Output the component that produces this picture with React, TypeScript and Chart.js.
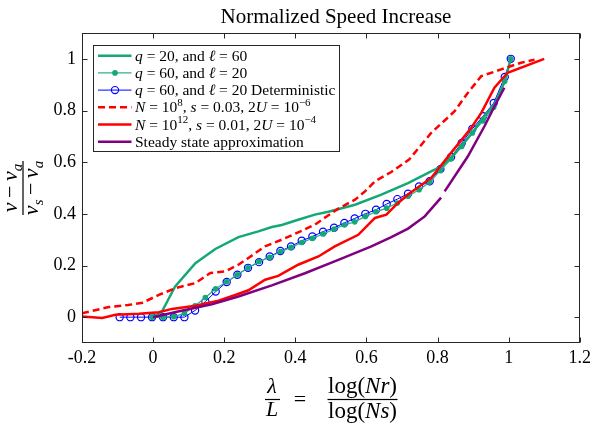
import React, { useEffect, useRef } from 'react';
import { Chart, registerables } from 'chart.js';

Chart.register(...registerables);

const FONT = '"Liberation Serif", "Times New Roman", Times, serif';

// ---- data ----
const detX = [-0.094, -0.064, -0.034, -0.003, 0.028, 0.058, 0.088, 0.118, 0.147, 0.176, 0.207, 0.237, 0.267, 0.298, 0.328, 0.358, 0.388, 0.418, 0.448, 0.478, 0.509, 0.538, 0.567, 0.597, 0.627, 0.657, 0.687, 0.717, 0.748, 0.778, 0.808, 0.838, 0.868, 0.898, 0.928, 0.958, 0.989, 1.006];
const detY = [0, 0, 0, 0, 0, 0, 0, 0.026, 0.06, 0.099, 0.136, 0.164, 0.191, 0.213, 0.235, 0.256, 0.274, 0.296, 0.312, 0.331, 0.346, 0.365, 0.382, 0.4, 0.416, 0.438, 0.457, 0.478, 0.506, 0.526, 0.573, 0.62, 0.674, 0.729, 0.778, 0.829, 0.93, 1.0];

const q60X = [-0.003, 0.028, 0.058, 0.088, 0.118, 0.147, 0.176, 0.207, 0.237, 0.267, 0.298, 0.328, 0.358, 0.388, 0.418, 0.448, 0.478, 0.509, 0.538, 0.567, 0.597, 0.627, 0.657, 0.687, 0.717, 0.748, 0.778, 0.808, 0.838, 0.868, 0.898, 0.928, 0.958, 0.989, 1.006];
const q60Y = [0, 0, 0.002, 0.015, 0.044, 0.076, 0.11, 0.137, 0.164, 0.191, 0.215, 0.232, 0.254, 0.27, 0.289, 0.305, 0.322, 0.341, 0.357, 0.369, 0.39, 0.408, 0.422, 0.442, 0.468, 0.493, 0.522, 0.568, 0.612, 0.661, 0.713, 0.76, 0.813, 0.913, 1.0];

const q20X = [0.0, 0.025, 0.062, 0.119, 0.175, 0.24, 0.296, 0.334, 0.362, 0.408, 0.455, 0.493, 0.568, 0.642, 0.717, 0.782, 0.81, 0.84, 0.868, 0.9, 0.93, 0.96, 0.989, 1.006];
const q20Y = [0.0, 0.022, 0.119, 0.209, 0.264, 0.31, 0.332, 0.349, 0.357, 0.377, 0.397, 0.408, 0.435, 0.474, 0.519, 0.564, 0.583, 0.62, 0.664, 0.718, 0.776, 0.823, 0.912, 1.0];

const n8X = [-0.2, -0.16, -0.125, -0.07, -0.03, 0.016, 0.062, 0.119, 0.161, 0.203, 0.24, 0.268, 0.315, 0.362, 0.408, 0.455, 0.488, 0.521, 0.568, 0.596, 0.624, 0.67, 0.72, 0.782, 0.848, 0.885, 0.923, 0.979, 1.035, 1.073];
const n8Y = [0.015, 0.028, 0.039, 0.047, 0.056, 0.086, 0.112, 0.132, 0.171, 0.177, 0.203, 0.229, 0.274, 0.3, 0.328, 0.358, 0.39, 0.42, 0.455, 0.487, 0.526, 0.562, 0.61, 0.713, 0.797, 0.868, 0.933, 0.959, 0.985, 0.997];

const n12X = [-0.2, -0.143, -0.106, -0.04, 0.016, 0.053, 0.119, 0.184, 0.231, 0.268, 0.315, 0.352, 0.408, 0.465, 0.511, 0.577, 0.624, 0.656, 0.689, 0.717, 0.782, 0.838, 0.895, 0.923, 0.96, 0.997, 1.1];
const n12Y = [0.003, -0.003, 0.009, 0.013, 0.019, 0.032, 0.044, 0.064, 0.086, 0.104, 0.145, 0.16, 0.203, 0.235, 0.274, 0.319, 0.384, 0.397, 0.442, 0.475, 0.539, 0.636, 0.733, 0.791, 0.888, 0.946, 1.0];

const ssX1 = [0.0, 0.07, 0.165, 0.24, 0.334, 0.427, 0.521, 0.614, 0.67, 0.717, 0.764, 0.81];
const ssY1 = [0.0, 0.022, 0.05, 0.08, 0.123, 0.17, 0.222, 0.274, 0.31, 0.343, 0.39, 0.463];
const ssX2 = [0.82, 0.885, 0.932, 0.96, 0.988];
const ssY2 = [0.487, 0.622, 0.739, 0.816, 0.888];

const xTicks = [-0.2, 0, 0.2, 0.4, 0.6, 0.8, 1, 1.2];
const xTickLabels = ['-0.2', '0', '0.2', '0.4', '0.6', '0.8', '1', '1.2'];
const yTicks = [0, 0.2, 0.4, 0.6, 0.8, 1];
const yTickLabels = ['0', '0.2', '0.4', '0.6', '0.8', '1'];

const titleText = 'Normalized Speed Increase';

type Seg = { t: string; it?: boolean; sub?: boolean; sup?: boolean; pad?: number };

const legendLabels: Seg[][] = [
  [{ t: 'q', it: true }, { t: ' = 20, and ' }, { t: 'ℓ', it: true }, { t: ' = 60' }],
  [{ t: 'q', it: true }, { t: ' = 60, and ' }, { t: 'ℓ', it: true }, { t: ' = 20' }],
  [{ t: 'q', it: true }, { t: ' = 60, and ' }, { t: 'ℓ', it: true }, { t: ' = 20 Deterministic' }],
  [{ t: 'N', it: true }, { t: ' = 10' }, { t: '8', sup: true }, { t: ', ' }, { t: 's', it: true }, { t: ' = 0.03, 2' }, { t: 'U', it: true }, { t: ' = 10' }, { t: '−6', sup: true }],
  [{ t: 'N', it: true }, { t: ' = 10' }, { t: '12', sup: true }, { t: ', ' }, { t: 's', it: true }, { t: ' = 0.01, 2' }, { t: 'U', it: true }, { t: ' = 10' }, { t: '−4', sup: true }],
  [{ t: 'Steady state approximation' }],
];

const yLabelNum: Seg[] = [{ t: 'v', it: true }, { t: '−', pad: 4.5 }, { t: 'v', it: true }, { t: 'a', it: true, sub: true }];
const yLabelDen: Seg[] = [{ t: 'v', it: true }, { t: 's', it: true, sub: true }, { t: '−', pad: 4.5 }, { t: 'v', it: true }, { t: 'a', it: true, sub: true }];
const xLabelLeftNum: Seg[] = [{ t: 'λ', it: true }];
const xLabelLeftDen: Seg[] = [{ t: 'L', it: true }];
const xLabelNum: Seg[] = [{ t: 'log(' }, { t: 'Nr', it: true }, { t: ')' }];
const xLabelDen: Seg[] = [{ t: 'log(' }, { t: 'Ns', it: true }, { t: ')' }];

const GREEN = 'rgb(20,168,120)';
const GREEN_THIN = 'rgb(40,180,135)';
const BLUE = 'rgb(0,0,255)';
const RED = 'rgb(255,0,0)';
const PURPLE = 'rgb(128,0,128)';
const AXIS = '#262626';

const pts = (xs: number[], ys: (number | null)[]) => xs.map((x, i) => ({ x, y: ys[i] }));

function segFont(s: Seg, size: number) {
  const sz = s.sub || s.sup ? Math.round(size * 0.7) : size;
  return `${s.it ? 'italic ' : ''}${sz}px ${FONT}`;
}
function richWidth(ctx: CanvasRenderingContext2D, segs: Seg[], size: number) {
  let w = 0;
  for (const s of segs) {
    ctx.font = segFont(s, size);
    w += ctx.measureText(s.t).width + 2 * (s.pad || 0);
  }
  return w;
}
function drawRich(ctx: CanvasRenderingContext2D, segs: Seg[], x: number, y: number, size: number, center: boolean) {
  let cx = center ? x - richWidth(ctx, segs, size) / 2 : x;
  ctx.textAlign = 'left';
  ctx.textBaseline = 'alphabetic';
  for (const s of segs) {
    ctx.font = segFont(s, size);
    cx += s.pad || 0;
    const dy = s.sup ? -size * 0.4 : s.sub ? size * 0.22 : 0;
    ctx.fillText(s.t, cx, y + dy);
    cx += ctx.measureText(s.t).width + (s.pad || 0);
  }
}

const decorPlugin = {
  id: 'decor',
  afterDraw(chart: any) {
    const ctx: CanvasRenderingContext2D = chart.ctx;
    const { left, right, top, bottom } = chart.chartArea;
    const xs = chart.scales.x;
    const ys = chart.scales.y;
    ctx.save();
    ctx.strokeStyle = AXIS;
    ctx.lineWidth = 1;
    ctx.setLineDash([]);
    const L = Math.round(left) + 0.5, R = Math.round(right) - 0.5, T = Math.round(top) + 0.5, B = Math.round(bottom) - 0.5;
    ctx.strokeRect(L, T, R - L, B - T);
    ctx.beginPath();
    for (const v of xTicks) {
      const p = Math.round(xs.getPixelForValue(v)) + 0.5;
      ctx.moveTo(p, B); ctx.lineTo(p, B - 5);
      ctx.moveTo(p, T); ctx.lineTo(p, T + 5);
    }
    for (const v of yTicks) {
      const p = Math.round(ys.getPixelForValue(v)) + 0.5;
      ctx.moveTo(L, p); ctx.lineTo(L + 5, p);
      ctx.moveTo(R, p); ctx.lineTo(R - 5, p);
    }
    ctx.stroke();

    // title
    ctx.fillStyle = '#000';
    ctx.font = `21px ${FONT}`;
    ctx.textAlign = 'center';
    ctx.textBaseline = 'alphabetic';
    ctx.fillText(titleText, 336, 23);

    // x label
    const barY = 399.5;
    drawRich(ctx, xLabelLeftNum, 272, 393, 22, true);
    drawRich(ctx, xLabelLeftDen, 272, 416, 22, true);
    ctx.fillRect(265, barY - 0.6, 15, 1.2);
    ctx.font = `22px ${FONT}`;
    ctx.textAlign = 'center';
    ctx.fillText('=', 300, 406);
    drawRich(ctx, xLabelNum, 362.5, 393, 23, true);
    drawRich(ctx, xLabelDen, 362.5, 418, 23, true);
    ctx.fillRect(327.5, barY - 0.6, 70, 1.2);

    // y label (rotated)
    ctx.save();
    ctx.translate(23, (top + bottom) / 2);
    ctx.rotate(-Math.PI / 2);
    ctx.fillRect(-27, -0.6, 54, 1.2);
    drawRich(ctx, yLabelNum, 0, -6, 22, true);
    drawRich(ctx, yLabelDen, 0, 15, 22, true);
    ctx.restore();

    // legend
    const bx = 93.5, by = 45.5, bw = 246, bh = 106;
    ctx.fillStyle = '#fff';
    ctx.fillRect(bx, by, bw, bh);
    ctx.strokeStyle = AXIS;
    ctx.lineWidth = 1;
    ctx.strokeRect(bx, by, bw, bh);
    const styles = [
      { c: GREEN, w: 2.5, dash: [] as number[], marker: '' },
      { c: GREEN_THIN, w: 1.3, dash: [], marker: 'dot' },
      { c: BLUE, w: 1, dash: [], marker: 'circle' },
      { c: RED, w: 2.5, dash: [7, 4], marker: '' },
      { c: RED, w: 2.5, dash: [], marker: '' },
      { c: PURPLE, w: 2.5, dash: [], marker: '' },
    ];
    styles.forEach((st, i) => {
      const y = 55.7 + i * 17.2;
      ctx.strokeStyle = st.c;
      ctx.lineWidth = st.w;
      ctx.setLineDash(st.dash);
      ctx.beginPath();
      ctx.moveTo(98, y); ctx.lineTo(131.5, y);
      ctx.stroke();
      ctx.setLineDash([]);
      if (st.marker === 'dot') {
        ctx.fillStyle = GREEN;
        ctx.beginPath(); ctx.arc(115, y, 2.8, 0, Math.PI * 2); ctx.fill();
      } else if (st.marker === 'circle') {
        ctx.strokeStyle = BLUE; ctx.lineWidth = 1.2;
        ctx.beginPath(); ctx.arc(115, y, 3.6, 0, Math.PI * 2); ctx.stroke();
      }
      ctx.fillStyle = '#000';
      drawRich(ctx, legendLabels[i], 135, y + 5, 15.5, false);
    });
    ctx.restore();
  },
};

export default function App() {
  const ref = useRef<HTMLCanvasElement>(null);
  useEffect(() => {
    if (!ref.current) return;
    const tickFont = { family: FONT, size: 18 };
    const chart = new Chart(ref.current, {
      type: 'line',
      data: {
        datasets: [
          { data: pts(q20X, q20Y), borderColor: GREEN, borderWidth: 2.5, pointRadius: 0, order: -2 },
          { data: pts(q60X, q60Y), borderColor: GREEN_THIN, borderWidth: 1.3, pointRadius: 2.8, pointBackgroundColor: GREEN, pointBorderWidth: 0, order: -1 },
          { data: pts(detX, detY), borderColor: BLUE, borderWidth: 1, pointRadius: 3.6, pointBorderColor: BLUE, pointBackgroundColor: 'rgba(0,0,0,0)', pointBorderWidth: 1.2, order: 0 },
          { data: pts(n8X, n8Y), borderColor: RED, borderWidth: 2.5, borderDash: [7, 4], pointRadius: 0, order: -3 },
          { data: pts(n12X, n12Y), borderColor: RED, borderWidth: 2.5, pointRadius: 0, order: -4 },
          { data: [...pts(ssX1, ssY1), { x: 0.815, y: null }, ...pts(ssX2, ssY2)], borderColor: PURPLE, borderWidth: 2.5, pointRadius: 0, spanGaps: false, order: -5 },
        ] as any,
      },
      options: {
        animation: false,
        responsive: true,
        maintainAspectRatio: false,
        layout: { padding: { left: 0, right: 13, top: 33, bottom: 0 } },
        plugins: { legend: { display: false }, title: { display: false }, tooltip: { enabled: false } },
        elements: { line: { tension: 0 } },
        scales: {
          x: {
            type: 'linear', min: -0.2, max: 1.2,
            grid: { display: false, drawTicks: false, tickLength: 0 }, border: { display: false },
            afterBuildTicks: (s: any) => { s.ticks = xTicks.map((v) => ({ value: v })); },
            afterFit: (s: any) => { s.height = 84; },
            ticks: { callback: (v: any) => xTickLabels[xTicks.indexOf(v)], font: tickFont, color: '#000', padding: 4, maxRotation: 0, autoSkip: false },
          },
          y: {
            type: 'linear', min: -0.1, max: 1.1,
            grid: { display: false, drawTicks: false, tickLength: 0 }, border: { display: false },
            afterBuildTicks: (s: any) => { s.ticks = yTicks.map((v) => ({ value: v })); },
            afterFit: (s: any) => { s.width = 82; },
            ticks: { callback: (v: any) => yTickLabels[yTicks.indexOf(v)], font: tickFont, color: '#000', padding: 6, autoSkip: false },
          },
        },
      } as any,
      plugins: [decorPlugin],
    });
    return () => chart.destroy();
  }, []);
  return (
    <div style={{ position: 'absolute', left: 0, top: 0, width: 595, height: 427, background: '#fff' }}>
      <canvas ref={ref} />
    </div>
  );
}
